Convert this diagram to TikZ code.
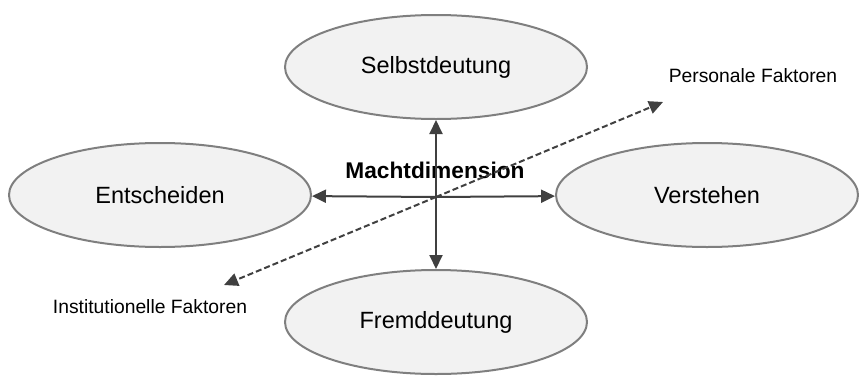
\documentclass[tikz,border=0pt]{standalone}
\usepackage{fontspec}
\setmainfont{Liberation Sans}
\usetikzlibrary{shapes.geometric,arrows.meta}
\definecolor{efill}{HTML}{F2F2F2}
\definecolor{edraw}{HTML}{7F7F7F}
\definecolor{arr}{HTML}{404040}
\tikzset{
  oval/.style={ellipse, draw=edraw, fill=efill, line width=2pt, minimum width=302pt, minimum height=104pt, inner sep=0pt, font=\fontsize{23.5}{28}\selectfont},
  axis/.style={draw=arr, line width=2pt, -{Triangle[length=14pt,width=13pt]}},
  factor/.style={draw=arr, line width=2pt, dash pattern=on 6pt off 3pt, -{Triangle[length=14pt,width=13pt]}},
  lab/.style={font=\fontsize{19.3}{23}\selectfont, inner sep=0pt}
}
\begin{document}
\begin{tikzpicture}[x=1pt,y=-1pt]
\useasboundingbox (0,0) rectangle (859,375);
\node[oval] (sel) at (436,67) {Selbstdeutung};
\node[oval] (ver) at (707,195) {Verstehen};
\node[oval] (ent) at (160,195) {Entscheiden};
\node[oval] (fre) at (436,322) {Fremddeutung};
\coordinate (c) at (436,197);
\coordinate (inst) at (224,285);
\coordinate (pers) at (663,102);
\node[font=\bfseries\fontsize{22.7}{27}\selectfont, inner sep=0pt] (md) at (435,170) {Machtdimension};
\draw[axis] (c) -- (sel);
\draw[axis] (c) -- (fre);
\draw[axis] (c) -- (ent);
\draw[axis] (c) -- (ver);
\draw[factor] (c) -- (pers);
\draw[factor] (c) -- (inst);
\node[lab] (pl) at (753,76) {Personale Faktoren};
\node[lab] (il) at (150,307) {Institutionelle Faktoren};
\end{tikzpicture}
\end{document}
